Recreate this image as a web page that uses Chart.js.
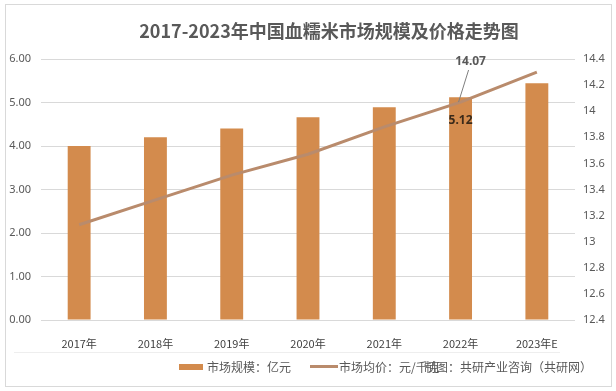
<!DOCTYPE html>
<html>
<head>
<meta charset="utf-8">
<script src="https://cdn.jsdelivr.net/npm/chart.js@4/dist/chart.umd.min.js"></script>
<style>
  html, body { margin: 0; padding: 0; background: #fff; }
  #wrap { width: 616px; height: 391px; position: relative; }
</style>
</head>
<body>
<div id="wrap"><canvas id="chart" width="616" height="391"></canvas></div>
<script>
const years = ["2017年", "2018年", "2019年", "2020年", "2021年", "2022年", "2023年E"];
const marketSize = [4.0, 4.2, 4.4, 4.66, 4.89, 5.12, 5.44];
const avgPrice = [13.13, 13.32, 13.51, 13.67, 13.88, 14.07, 14.30];
const leftTicks = [0, 1, 2, 3, 4, 5, 6];
const rightTicks = [12.4, 12.6, 12.8, 13, 13.2, 13.4, 13.6, 13.8, 14, 14.2, 14.4];

const FONT = '"Noto Sans", "Noto Sans CJK SC", sans-serif';
const CJK = '"Noto Sans CJK SC", sans-serif';
const GREY = "#595959";
const BAR = "#D38B4D";
const LINE = "#B98B6C";

// title, frame, legend, source and the 2022 labels
const decor = {
  id: "decor",
  beforeDraw(chart) {
    const c = chart.ctx;
    c.save();
    c.strokeStyle = "#d9d9d9";
    c.lineWidth = 1;
    c.strokeRect(5.5, 4.5, 606, 382);
    c.beginPath();
    c.moveTo(14, 352.5);
    c.lineTo(560, 352.5);
    c.strokeStyle = "#eeeeee";
    c.stroke();
    c.restore();
  },
  afterDraw(chart) {
    const c = chart.ctx;
    const barSet = chart.data.datasets.find(d => d.type === "bar");
    const lineSet = chart.data.datasets.find(d => d.type === "line");
    c.save();
    c.fillStyle = GREY;
    c.font = "bold 18px " + CJK;
    c.textAlign = "center";
    c.textBaseline = "middle";
    c.fillText("2017-2023年中国血糯米市场规模及价格走势图", 329, 31);

    // legend
    c.font = "12px " + CJK;
    c.textAlign = "left";
    c.fillStyle = BAR;
    c.fillRect(179, 364, 24, 6);
    c.fillStyle = GREY;
    c.fillText(barSet.label, 207, 367);
    c.strokeStyle = LINE;
    c.lineWidth = 3;
    c.beginPath();
    c.moveTo(310, 366.5);
    c.lineTo(338, 366.5);
    c.stroke();
    c.fillText(lineSet.label, 339, 367);
    c.fillStyle = GREY;
    c.fillText("制图：共研产业咨询（共研网）", 424, 367);

    // 2022 data labels
    const i = 5;
    const pt = chart.getDatasetMeta(0).data[i];
    const bar = chart.getDatasetMeta(1).data[i];
    c.strokeStyle = "#7f7f7f";
    c.lineWidth = 1;
    c.beginPath();
    c.moveTo(pt.x + 8, 70);
    c.lineTo(pt.x - 2, pt.y);
    c.stroke();
    c.font = "bold 12px " + FONT;
    c.textAlign = "center";
    c.fillStyle = GREY;
    c.fillText(avgPrice[i].toFixed(2), pt.x + 10, 62);
    c.fillStyle = "#3a2a1a";
    c.fillText(marketSize[i].toFixed(2), bar.x, 121);
    c.restore();
  }
};

new Chart(document.getElementById("chart"), {
  data: {
    labels: years,
    datasets: [
      {
        type: "line",
        label: "市场均价：元/千克",
        data: avgPrice,
        yAxisID: "y1",
        borderColor: LINE,
        backgroundColor: LINE,
        borderWidth: 3,
        pointRadius: 0,
        tension: 0,
        order: 0
      },
      {
        type: "bar",
        label: "市场规模：亿元",
        data: marketSize,
        yAxisID: "y",
        backgroundColor: BAR,
        categoryPercentage: 1,
        barPercentage: 0.3,
        order: 1
      }
    ]
  },
  options: {
    responsive: false,
    animation: false,
    layout: { padding: { top: 59, bottom: 41, left: 0, right: 0 } },
    plugins: { legend: { display: false }, title: { display: false }, tooltip: { enabled: false } },
    scales: {
      x: {
        grid: { display: false },
        border: { display: false },
        ticks: { color: "#404040", font: { family: CJK, size: 11 }, padding: 9 },
        afterFit(s) { s.height = 30; }
      },
      y: {
        position: "left",
        min: 0,
        max: 6,
        afterBuildTicks(s) { s.ticks = leftTicks.map(v => ({ value: v })); },
        ticks: { color: GREY, font: { family: FONT, size: 11 }, padding: 10, callback: v => v.toFixed(2) },
        grid: { color: "#d9d9d9", drawTicks: false },
        border: { display: false },
        afterFit(s) { s.width = 41; }
      },
      y1: {
        position: "right",
        min: 12.4,
        max: 14.4,
        afterBuildTicks(s) { s.ticks = rightTicks.map(v => ({ value: v })); },
        ticks: { color: GREY, font: { family: FONT, size: 11 }, padding: 8, callback: v => String(Math.round(v * 10) / 10) },
        grid: { display: false, drawTicks: false },
        border: { display: false },
        afterFit(s) { s.width = 41; }
      }
    }
  },
  plugins: [decor]
});
</script>
</body>
</html>
